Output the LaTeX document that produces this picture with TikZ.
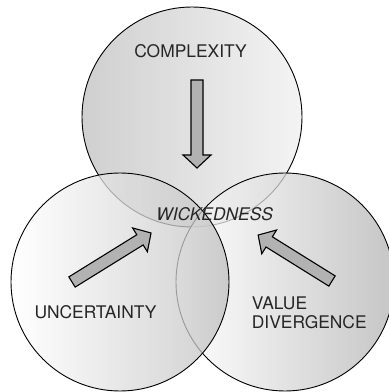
\documentclass[tikz,border=0pt]{standalone}
\usepackage{fontspec}
\setmainfont{TeX Gyre Heros}
\tikzset{
	ring/.style={draw, line width=.9pt, fill opacity=.75},
	lbl/.style={inner sep=0pt, text=black!85, font=\fontsize{17.4}{18.5}\selectfont},
	bigarrow/.pic={\draw[line width=1.1pt, fill=black!30](0, -6)--(#1-13, -6)--(#1-13, -14)--(#1, 0)--(#1-13, 14)--(#1-13, 6)--(0, 6)--cycle;}
}
\begin{document}
\begin{tikzpicture}[x=1pt, y=1pt]
		\useasboundingbox(0, 0)rectangle(389, 392);
		\draw[ring, left color=black!25, right color=black!6](192, 275)circle[radius=110pt];
		\draw[ring, left color=white, right color=black!30](285, 110)circle[radius=109pt];
		\draw[ring, left color=white, right color=black!25](120, 110)circle[radius=109pt];
		\pic[rotate=-90]at(197, 312){bigarrow=88};
		\pic[rotate=31.8]at(72, 110){bigarrow=93};
		\pic[rotate=148.1]at(332, 111){bigarrow=87};
		\node[lbl](cplx)at(190.5, 341.2){COMPLEXITY};
		\node[lbl, font=\fontsize{17.4}{18.5}\selectfont\itshape](wick)at(214.7, 178.3){WICKEDNESS};
		\node[lbl](unc)at(95.5, 80.3){UNCERTAINTY};
		\node[lbl, anchor=west, align=left](vdiv)at(251.7, 79){VALUE\\DIVERGENCE};
	\end{tikzpicture}
\end{document}
